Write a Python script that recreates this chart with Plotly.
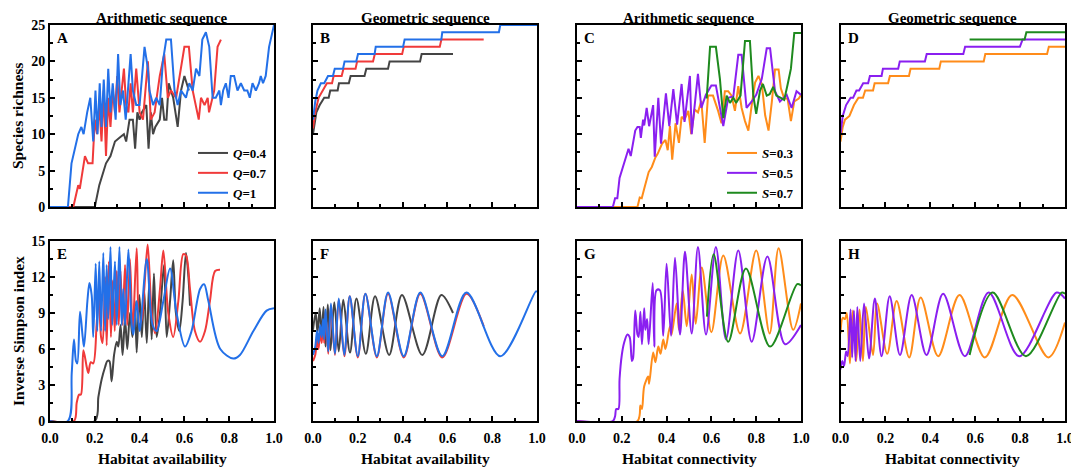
import plotly.graph_objects as go

SERIF = "Liberation Serif, Times New Roman, serif"
# the page body adds an 8 px margin, so the figure is 8 px smaller and all pixel
# positions are measured from the window corner minus that offset
OFF = 8
W, H = 1079 - OFF, 470 - OFF

# ---------------- Panel A : species richness, arithmetic, habitat availability
A_Q04_X = [0, 0.20, 0.22, 0.25, 0.27, 0.29, 0.31, 0.33, 0.34, 0.355, 0.37, 0.38, 0.39, 0.40, 0.41, 0.43, 0.44,
           0.45, 0.46, 0.47, 0.49, 0.50, 0.51, 0.52, 0.53, 0.55, 0.56, 0.57, 0.585, 0.60, 0.61, 0.62]
A_Q04_Y = [0, 0, 3, 6, 7, 9, 9.5, 10, 9, 12, 12, 8, 13, 12, 13, 14, 8,
           13, 10, 11, 12, 15, 12, 12, 17, 15, 13, 11, 16, 18, 17, 16]
A_Q07_X = [0, 0.104, 0.126, 0.133, 0.156, 0.17, 0.19, 0.20, 0.21, 0.22, 0.23, 0.24, 0.25, 0.26, 0.27, 0.28, 0.29,
           0.30, 0.31, 0.33, 0.34, 0.35, 0.36, 0.37, 0.385, 0.40, 0.415, 0.437, 0.45, 0.467, 0.49, 0.51, 0.526,
           0.54, 0.563, 0.60, 0.62, 0.637, 0.664, 0.674, 0.69, 0.704, 0.71, 0.733, 0.748, 0.763]
A_Q07_Y = [0, 0, 3, 2.5, 7, 6, 6, 12, 10, 14, 9, 16, 7, 15, 11, 16, 13,
           18, 13, 19, 14, 13, 17, 13, 19, 13, 12, 20, 12, 13, 18, 21, 15,
           16, 15, 22, 22, 16, 12, 15, 14, 15, 13, 16, 22, 23]
A_Q1_X = [0, 0.08, 0.096, 0.11, 0.126, 0.14, 0.15, 0.166, 0.18, 0.193, 0.203, 0.212, 0.222, 0.23, 0.24, 0.25,
          0.26, 0.27, 0.28, 0.293, 0.304, 0.314, 0.326, 0.338, 0.36, 0.37, 0.385, 0.40, 0.422, 0.437, 0.444,
          0.46, 0.474, 0.49, 0.504, 0.519, 0.54, 0.556, 0.57, 0.585, 0.607, 0.622, 0.637, 0.652, 0.667, 0.68,
          0.696, 0.711, 0.726, 0.74, 0.756, 0.763, 0.773, 0.785, 0.797, 0.807, 0.822, 0.837, 0.852, 0.867,
          0.881, 0.892, 0.904, 0.919, 0.933, 0.941, 0.951, 0.963, 0.978, 1.0]
A_Q1_Y = [0, 0, 6, 8, 10, 11, 10, 13, 15, 9, 16, 10, 17, 11, 17.5, 11,
          19, 13, 17, 12, 21, 14, 16, 12, 21, 16, 14, 14, 22, 19, 16,
          14, 15, 14, 20, 23, 23, 16, 14, 16, 15, 17, 16, 19, 18, 23,
          24, 22, 15, 15, 16, 14, 16, 17, 15, 18, 18, 16, 17, 16,
          16, 15, 17, 16, 17, 18, 17, 18, 22, 25]

# ---------------- Panel B : species richness, geometric, habitat availability
B_Q04_X = [0, 0.015, 0.03, 0.05, 0.07, 0.077, 0.11, 0.116, 0.16, 0.168, 0.23, 0.238, 0.335, 0.342, 0.478, 0.485, 0.625]
B_Q04_Y = [10, 13, 14, 15, 15, 16, 16, 17, 17, 18, 18, 19, 19, 20, 20, 21, 21]
B_Q07_X = [0, 0.01, 0.025, 0.045, 0.062, 0.085, 0.092, 0.128, 0.136, 0.19, 0.197, 0.268, 0.276, 0.398, 0.405,
           0.566, 0.573, 0.762]
B_Q07_Y = [10.8, 13, 15, 16, 17, 17, 18, 18, 19, 19, 20, 20, 21, 21, 22, 22, 23, 23]
B_Q1_X = [0, 0.01, 0.02, 0.035, 0.05, 0.067, 0.089, 0.097, 0.134, 0.141, 0.193, 0.201, 0.275, 0.280, 0.402,
          0.409, 0.573, 0.577, 0.830, 0.836, 1.0]
B_Q1_Y = [12, 14.5, 16, 17, 17, 18, 18, 19, 19, 20, 20, 21, 21, 22, 22, 23, 23, 24, 24, 25, 25]

# ---------------- Panel C : species richness, arithmetic, habitat connectivity
C_S03_X = [0, 0.27, 0.28, 0.289, 0.30, 0.32, 0.334, 0.35, 0.36, 0.38, 0.395, 0.405, 0.415, 0.425, 0.44, 0.455,
           0.467, 0.48, 0.497, 0.51, 0.525, 0.54, 0.555, 0.57, 0.585, 0.607, 0.63, 0.645, 0.66, 0.675, 0.69,
           0.705, 0.72, 0.735, 0.75, 0.765, 0.78, 0.795, 0.81, 0.825, 0.84, 0.855, 0.87, 0.884, 0.90, 0.91,
           0.925, 0.94, 0.955, 0.97, 0.99, 1.0]
C_S03_Y = [0, 0, 1.3, 1.2, 2.5, 4.8, 5.5, 6.8, 7.3, 8.7, 9.2, 7.8, 11.1, 6.5, 11.5, 8.8,
           12.4, 12, 13.2, 10, 13.4, 13, 14.6, 8.8, 15.3, 15.3, 13.2, 11.5, 15.9, 15.9, 15.3,
           13.2, 16.6, 13.6, 11.8, 10.5, 14, 17.1, 18, 16.9, 12.6, 10.5, 14.5, 18.9, 18.9, 16.3,
           14.9, 14.9, 11.8, 14.5, 14.9, 15.4]
C_S05_X = [0, 0.16, 0.17, 0.18, 0.19, 0.20, 0.215, 0.23, 0.24, 0.25, 0.26, 0.27, 0.28, 0.285, 0.295, 0.30,
           0.311, 0.322, 0.34, 0.347, 0.363, 0.375, 0.397, 0.412, 0.43, 0.447, 0.467, 0.48, 0.504, 0.512,
           0.54, 0.555, 0.575, 0.60, 0.62, 0.653, 0.675, 0.698, 0.72, 0.735, 0.757, 0.78, 0.80, 0.825,
           0.847, 0.862, 0.884, 0.906, 0.936, 0.958, 0.98, 1.0]
C_S05_Y = [0, 0, 1.2, 1.2, 4, 5, 6.5, 8, 7, 9, 10.5, 11, 11, 9.5, 12, 11.2,
           13.6, 11.1, 14, 6.9, 15, 8.7, 15.6, 11.1, 16.2, 11.3, 16.9, 11.7, 18, 10,
           18.3, 13.6, 15.4, 16.7, 16.7, 11.1, 15, 15.2, 20.9, 20.9, 13.6, 14.5, 15.4, 17.6,
           21.8, 21.8, 15.9, 14.5, 15.4, 13.6, 15.9, 15.4]
C_S07_X = [0.579, 0.594, 0.62, 0.638, 0.653, 0.668, 0.683, 0.698, 0.71, 0.73, 0.75, 0.772, 0.787, 0.80, 0.817,
           0.83, 0.847, 0.86, 0.876, 0.89, 0.91, 0.925, 0.94, 0.955, 0.97, 0.99, 1.0]
C_S07_Y = [14.9, 22, 22, 17.6, 12.2, 15.3, 14.3, 15, 14.3, 15.3, 22.8, 22.8, 15.3, 12.8, 16,
           16.9, 15.3, 15.5, 16.5, 15.3, 15, 14.7, 16.8, 19, 23.9, 23.9, 23.9]

# ---------------- Panel D : species richness, geometric, habitat connectivity
D_S03_X = [0, 0.01, 0.02, 0.04, 0.06, 0.08, 0.10, 0.11, 0.145, 0.152, 0.212, 0.22, 0.305, 0.312, 0.44, 0.447,
           0.638, 0.645, 0.92, 0.928, 1.0]
D_S03_Y = [9, 11, 12, 12.5, 14, 15, 15, 16, 16, 17, 17, 18, 18, 19, 19, 20, 20, 21, 21, 22, 22]
D_S05_X = [0, 0.01, 0.025, 0.045, 0.056, 0.071, 0.083, 0.101, 0.123, 0.131, 0.183, 0.189, 0.257, 0.264, 0.376,
           0.384, 0.547, 0.555, 0.799, 0.811, 1.0]
D_S05_Y = [10, 12.5, 14, 15, 15, 16, 16, 17, 17, 18, 18, 19, 19, 20, 20, 21, 21, 22, 22, 23, 23]
D_S07_X = [0.575, 0.82, 0.828, 1.0]
D_S07_Y = [23, 23, 24, 24]

# ---------------- Panel E : inverse Simpson, arithmetic, habitat availability
E_Q04_X = [0, 0.20, 0.216, 0.231, 0.246, 0.256, 0.265, 0.275, 0.286, 0.298, 0.305, 0.315, 0.324, 0.335, 0.345,
           0.357, 0.368, 0.379, 0.387, 0.399, 0.41, 0.42, 0.432, 0.443, 0.454, 0.464, 0.476, 0.491, 0.509,
           0.521, 0.536, 0.55, 0.562, 0.577, 0.592, 0.607, 0.618, 0.625]
E_Q04_Y = [0, 0, 2, 3.5, 4.5, 5, 5, 3.3, 5.5, 6.6, 6.2, 8, 5.5, 8.5, 6,
           9, 7, 10, 5.7, 10.5, 7, 11, 6.5, 11.5, 6.8, 12.3, 7, 9, 13,
           7, 10, 13.4, 9, 7.5, 10, 14, 12, 9.6]
E_Q07_X = [0, 0.107, 0.119, 0.13, 0.138, 0.149, 0.164, 0.171, 0.182, 0.193, 0.208, 0.217, 0.228, 0.235, 0.246,
           0.253, 0.263, 0.272, 0.28, 0.289, 0.298, 0.307, 0.315, 0.324, 0.335, 0.345, 0.357, 0.369, 0.387,
           0.399, 0.41, 0.421, 0.436, 0.454, 0.469, 0.491, 0.506, 0.528, 0.55, 0.573, 0.595, 0.607, 0.625,
           0.647, 0.67, 0.692, 0.714, 0.737, 0.759]
E_Q07_Y = [0, 0, 1.5, 2.2, 2.2, 5.9, 4.5, 4, 4.9, 4.8, 8, 10.6, 7, 6.5, 12,
           6.3, 13.3, 7, 11.7, 7.5, 12.5, 8, 12.5, 8, 13, 8, 13.5, 7.5, 14.4,
           8, 8.5, 11, 14.7, 9, 7.3, 11, 14.2, 9, 7, 10, 13.9, 13.8, 11,
           7.5, 6.6, 7.5, 10, 12.5, 12.6]
E_Q1_X = [0, 0.08, 0.097, 0.107, 0.116, 0.122, 0.134, 0.146, 0.152, 0.167, 0.176, 0.186, 0.193, 0.204, 0.211,
          0.22, 0.228, 0.238, 0.246, 0.253, 0.26, 0.27, 0.278, 0.29, 0.298, 0.31, 0.32, 0.327, 0.335, 0.35,
          0.365, 0.372, 0.387, 0.40, 0.432, 0.458, 0.476, 0.506, 0.536, 0.565, 0.603, 0.632, 0.67, 0.688,
          0.707, 0.76, 0.818, 0.848, 0.908, 0.967, 1.0]
E_Q1_Y = [0, 0, 4, 6.8, 5, 4.8, 9.1, 7, 6.2, 10, 11.5, 10.5, 7, 13.1, 7.5,
          13.3, 7.5, 14, 7.5, 13, 8.5, 14.5, 8, 13.3, 8, 14.5, 8, 11, 8, 14.3,
          8, 7.2, 10, 7.5, 13.5, 8, 7.5, 10, 12.7, 9, 6.2, 7.5, 11, 11.4,
          10, 6, 5.2, 5.5, 7.5, 9.2, 9.4]

# ---------------- Panel F : inverse Simpson, geometric, habitat availability
F_Q04_X = [0, 0.012, 0.02, 0.03, 0.038, 0.047, 0.056, 0.066, 0.078, 0.095, 0.115, 0.135, 0.165, 0.194, 0.236,
           0.277, 0.34, 0.397, 0.488, 0.573, 0.625]
F_Q04_Y = [7.6, 9.0, 7.4, 9.4, 7.0, 9.5, 6.2, 9.7, 5.9, 9.9, 5.8, 10.1, 5.7, 10.2, 5.6,
           10.4, 5.5, 10.5, 5.5, 10.5, 9.0]
F_Q07_X = [0, 0.01, 0.018, 0.025, 0.032, 0.039, 0.045, 0.05, 0.056, 0.068, 0.08, 0.098, 0.115, 0.14, 0.164,
           0.2, 0.234, 0.285, 0.335, 0.405, 0.479, 0.577, 0.685, 0.762]
F_Q07_Y = [5.0, 5.5, 6.8, 6.0, 7.5, 6.5, 8.2, 6.5, 9.0, 5.6, 9.6, 5.5, 10.1, 5.4, 10.4,
           5.3, 10.6, 5.3, 10.6, 5.3, 10.6, 5.3, 10.6, 7.9]
F_Q1_X = [0, 0.01, 0.018, 0.025, 0.032, 0.039, 0.045, 0.05, 0.056, 0.068, 0.08, 0.098, 0.115, 0.14, 0.164,
          0.2, 0.234, 0.285, 0.335, 0.405, 0.479, 0.577, 0.685, 0.836, 0.995, 1.0]
F_Q1_Y = [5.5, 6.2, 7.5, 6.5, 8.0, 7.0, 8.5, 6.8, 9.3, 5.8, 9.8, 5.6, 10.2, 5.5, 10.4,
          5.4, 10.6, 5.4, 10.7, 5.4, 10.7, 5.4, 10.7, 5.4, 10.8, 10.75]

# ---------------- Panel G : inverse Simpson, arithmetic, habitat connectivity
G_S03_X = [0, 0.27, 0.283, 0.29, 0.30, 0.318, 0.322, 0.34, 0.35, 0.363, 0.373, 0.385, 0.395, 0.415, 0.422,
           0.445, 0.455, 0.472, 0.49, 0.512, 0.53, 0.557, 0.60, 0.653, 0.728, 0.80, 0.86, 0.90, 0.965, 1.0]
G_S03_Y = [0, 0, 1.3, 1.0, 2.9, 3.7, 3.1, 5.7, 4.9, 6.2, 5.6, 6.8, 6.0, 7.9, 7.2,
           9.8, 7.6, 10.9, 7.9, 12.2, 8.1, 12.8, 7.4, 13.8, 7.3, 14.2, 7.3, 14.4, 7.6, 9.8]
G_S05_X = [0, 0.16, 0.17, 0.175, 0.185, 0.19, 0.20, 0.21, 0.225, 0.235, 0.245, 0.25, 0.26, 0.27, 0.275, 0.283,
           0.29, 0.30, 0.305, 0.313, 0.32, 0.338, 0.345, 0.355, 0.37, 0.385, 0.40, 0.42, 0.4375, 0.46, 0.482,
           0.512, 0.54, 0.576, 0.62, 0.665, 0.72, 0.78, 0.85, 0.929, 1.0]
G_S05_Y = [0, 0, 0.4, 1, 1, 3.5, 5.5, 6.5, 7.2, 7, 5, 5.2, 9.2, 7.2, 7, 9.1,
           6.4, 9.4, 7.6, 8.5, 6.4, 11.5, 6.2, 10.9, 10.9, 7.1, 13.1, 7.1, 13.6, 7.2, 14.1,
           7.3, 14.5, 7.2, 14.5, 6.8, 14.2, 6.6, 13.7, 6.4, 8.0]
G_S07_X = [0.58, 0.61, 0.675, 0.754, 0.862, 0.983, 1.0]
G_S07_Y = [8.7, 13.9, 6.6, 12.7, 6.2, 11.4, 11.3]

# ---------------- Panel H : inverse Simpson, geometric, habitat connectivity
H_S03_X = [0, 0.01, 0.02, 0.028, 0.042, 0.055, 0.07, 0.085, 0.10, 0.113, 0.145, 0.163, 0.208, 0.25, 0.306,
           0.357, 0.435, 0.53, 0.643, 0.765, 0.926, 1.0]
H_S03_Y = [7.3, 8.6, 8.5, 9.0, 4.8, 9.2, 5.0, 9.3, 5.0, 9.5, 5.5, 9.8, 5.6, 10.0, 5.3,
           10.3, 5.4, 10.5, 5.3, 10.5, 5.3, 8.2]
H_S05_X = [0, 0.008, 0.016, 0.025, 0.032, 0.045, 0.052, 0.06, 0.067, 0.075, 0.088, 0.105, 0.127, 0.153, 0.183,
           0.219, 0.265, 0.317, 0.383, 0.457, 0.554, 0.66, 0.796, 0.963, 1.0]
H_S05_Y = [4.3, 5.0, 4.6, 5.8, 5.4, 9.3, 5.3, 9.2, 5.0, 9.5, 5.0, 9.8, 5.2, 10.2, 5.4,
           10.4, 5.5, 10.5, 5.5, 10.6, 5.4, 10.7, 5.4, 10.7, 10.2]
H_S07_X = [0.575, 0.678, 0.826, 0.985, 1.0]
H_S07_Y = [5.5, 10.7, 5.4, 10.7, 10.6]

# ---------------- labels
Q_NAMES = ["<i>Q</i>=0.4", "<i>Q</i>=0.7", "<i>Q</i>=1"]
S_NAMES = ["<i>S</i>=0.3", "<i>S</i>=0.5", "<i>S</i>=0.7"]
Q_COLORS = ["#444444", "#f03a3a", "#2370e8"]
S_COLORS = ["#ff8c1a", "#8a1ff0", "#1e8a1e"]
PANEL_LETTERS = ["A", "B", "C", "D", "E", "F", "G", "H"]
COL_TITLES = ["Arithmetic sequence", "Geometric sequence", "Arithmetic sequence", "Geometric sequence"]
X_TITLES = ["Habitat availability", "Habitat availability", "Habitat connectivity", "Habitat connectivity"]
Y_TITLES = ["Species richness", "Inverse Simpson index"]

panels = {
    1: ([A_Q04_X, A_Q07_X, A_Q1_X], [A_Q04_Y, A_Q07_Y, A_Q1_Y], "Q"),
    2: ([B_Q04_X, B_Q07_X, B_Q1_X], [B_Q04_Y, B_Q07_Y, B_Q1_Y], "Q"),
    3: ([C_S03_X, C_S05_X, C_S07_X], [C_S03_Y, C_S05_Y, C_S07_Y], "S"),
    4: ([D_S03_X, D_S05_X, D_S07_X], [D_S03_Y, D_S05_Y, D_S07_Y], "S"),
    5: ([E_Q04_X, E_Q07_X, E_Q1_X], [E_Q04_Y, E_Q07_Y, E_Q1_Y], "Q"),
    6: ([F_Q04_X, F_Q07_X, F_Q1_X], [F_Q04_Y, F_Q07_Y, F_Q1_Y], "Q"),
    7: ([G_S03_X, G_S05_X, G_S07_X], [G_S03_Y, G_S05_Y, G_S07_Y], "S"),
    8: ([H_S03_X, H_S05_X, H_S07_X], [H_S03_Y, H_S05_Y, H_S07_Y], "S"),
}

# panel frames in window pixels
cols_px = [(50, 274), (313, 537), (577, 801), (840.5, 1065)]
rows_px = [(25, 207), (241, 421)]


def fx(px):
    return (px - OFF) / W


def fy(py):
    return 1 - (py - OFF) / H


fig = go.Figure()

for i in range(1, 9):
    xs, ys, kind = panels[i]
    names = Q_NAMES if kind == "Q" else S_NAMES
    colors = Q_COLORS if kind == "Q" else S_COLORS
    shape = "linear" if i <= 4 else "spline"
    for k in range(3):
        show = i in (1, 3)
        line = dict(color=colors[k], width=2, shape=shape)
        if shape == "spline":
            line["smoothing"] = 0.9
        fig.add_trace(go.Scatter(
            x=xs[k], y=ys[k], mode="lines", name=names[k], line=line,
            xaxis=f"x{i}", yaxis=f"y{i}", showlegend=show,
            legend="legend" if i == 1 else "legend2",
            hoverinfo="skip",
        ))

tickfont = dict(family=SERIF, size=14, color="black", weight="bold")
layout = dict(
    width=W, height=H, autosize=False,
    margin=dict(l=0, r=0, t=0, b=0, pad=0, autoexpand=False),
    paper_bgcolor="white", plot_bgcolor="white",
    showlegend=True,
)
for i in range(1, 9):
    c = (i - 1) % 4
    r = (i - 1) // 4
    x0, x1 = cols_px[c]
    y0, y1 = rows_px[r]
    xd = [fx(x0), fx(x1)]
    yd = [fy(y1), fy(y0)]
    common = dict(showline=True, linecolor="black", linewidth=2, mirror=True,
                  ticks="inside", ticklen=5, tickwidth=1.5, tickcolor="black", automargin=False,
                  showgrid=False, zeroline=False, tickfont=tickfont, fixedrange=True)
    layout[f"xaxis{i}"] = dict(common, domain=xd, anchor=f"y{i}", range=[0, 1], tick0=0, dtick=0.2,
                               tickformat=".1f", showticklabels=(r == 1), ticklabelstandoff=3,
                               minor=dict(ticks="inside", ticklen=3, tickwidth=1.5, tickcolor="black",
                                          dtick=0.1, showgrid=False))
    ymax = 25 if r == 0 else 15
    ydt = 5 if r == 0 else 3
    layout[f"yaxis{i}"] = dict(common, domain=yd, anchor=f"x{i}", range=[0, ymax], tick0=0, dtick=ydt,
                               showticklabels=(c == 0),
                               minor=dict(ticks="inside", ticklen=3, tickwidth=1.5, tickcolor="black",
                                          dtick=ydt / 2, showgrid=False))

legend_font = dict(family=SERIF, size=13, color="black", weight="bold")
layout["legend"] = dict(x=fx(193), y=fy(138), xanchor="left", yanchor="top", bgcolor="rgba(0,0,0,0)",
                        font=legend_font, itemwidth=30, tracegroupgap=0)
layout["legend2"] = dict(x=fx(722), y=fy(138), xanchor="left", yanchor="top", bgcolor="rgba(0,0,0,0)",
                         font=legend_font, itemwidth=30, tracegroupgap=0)

annotations = []
title_font = dict(family=SERIF, size=15.5, color="black", weight="bold")
col_title_font = dict(family=SERIF, size=15, color="black", weight="bold")
for c in range(4):
    x0, x1 = cols_px[c]
    annotations.append(dict(text=COL_TITLES[c], x=fx((x0 + x1) / 2), y=fy(8.5), xref="paper", yref="paper",
                            xanchor="center", yanchor="top", borderpad=0, showarrow=False,
                            font=col_title_font))
    annotations.append(dict(text=X_TITLES[c], x=fx((x0 + x1) / 2), y=fy(458), xref="paper", yref="paper",
                            xanchor="center", yanchor="middle", showarrow=False, font=title_font))
for r in range(2):
    y0, y1 = rows_px[r]
    annotations.append(dict(text=Y_TITLES[r], x=fx(18), y=fy((y0 + y1) / 2), xref="paper", yref="paper",
                            xanchor="center", yanchor="middle", textangle=-90, showarrow=False, font=title_font))
letter_font = dict(family=SERIF, size=15, color="black", weight="bold")
for i in range(8):
    c = i % 4
    r = i // 4
    x0 = cols_px[c][0]
    y0 = rows_px[r][0]
    annotations.append(dict(text=PANEL_LETTERS[i], x=fx(x0 + 5), y=fy(y0 + 13), xref="paper",
                            yref="paper", xanchor="left", yanchor="middle", showarrow=False, font=letter_font))
layout["annotations"] = annotations

fig.update_layout(**layout)
fig.write_html("out.html")
